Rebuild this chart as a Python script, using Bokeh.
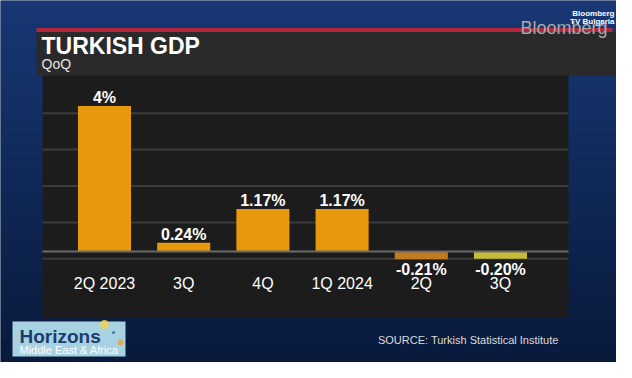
from bokeh.plotting import figure
from bokeh.models import Range1d, ColumnDataSource
from bokeh.embed import file_html
from bokeh.resources import INLINE
from bokeh.core.properties import value
import numpy as np

# ---- data ----
categories = ["2Q 2023", "3Q", "4Q", "1Q 2024", "2Q", "3Q"]
gdp_qoq = [4.0, 0.24, 1.17, 1.17, -0.21, -0.20]
value_labels = ["4%", "0.24%", "1.17%", "1.17%", "-0.21%", "-0.20%"]
bar_colors = ["#E8980C", "#E8980C", "#E8980C", "#E8980C", "#C27A1E", "#C6BC38"]
grid_values = [-0.2, 0.8, 1.8, 2.8, 3.8]

title = "TURKISH GDP"
subtitle = "QoQ"
source_note = "SOURCE: Turkish Statistical Institute"

# ---- layout ----
W, H = 616, 362
FONT = value("Liberation Sans")
DESC = 0.212            # font descent (em) used to place text baselines
slot_px = 79.2          # pixels per category slot
unit_px = 36.4          # pixels per percentage point
x_start = -104 / slot_px
x_end = x_start + W / slot_px
y_end = 251 / unit_px
y_start = y_end - H / unit_px

p = figure(width=W, height=H, output_backend="svg", toolbar_location=None,
           x_range=Range1d(x_start, x_end), y_range=Range1d(y_start, y_end),
           x_axis_type=None, y_axis_type=None, min_border=0)
p.extra_x_ranges = {"px": Range1d(0, W)}
p.extra_y_ranges = {"px": Range1d(H, 0)}
p.grid.visible = False
p.outline_line_color = None
p.background_fill_color = "#0e2554"
p.border_fill_color = "#0e2554"

PX = dict(x_range_name="px", y_range_name="px")


def base(y, fs):
    """y of the text box bottom for a wanted alphabetic baseline y (px coords)."""
    return y + DESC * fs


# background gradient
n = 30
ys = np.linspace(0, H, n + 1)
c_top = np.array([0x18, 0x37, 0x74])
c_bot = np.array([0x09, 0x1a, 0x3c])
cols = []
for i in range(n):
    t = i / (n - 1)
    c = (c_top * (1 - t) + c_bot * t).astype(int)
    cols.append("#%02x%02x%02x" % tuple(c))
p.quad(left=0, right=W, top=ys[:-1], bottom=ys[1:], color=cols, line_color=None, **PX)

# header decorations
p.quad(left=36, right=612, top=27.5, bottom=31.5, color="#b3263e", line_color=None, **PX)
p.quad(left=36, right=W, top=31.5, bottom=75, color="#2a2a2b", line_color=None, **PX)
p.quad(left=42, right=568, top=75, bottom=317, color="#1c1c1c", line_color=None, **PX)

# gridlines
p.segment(x0=42, x1=568, y0=grid_values, y1=grid_values, x_range_name="px",
          line_color="#3b3b3b", line_width=2)

# bars
src = ColumnDataSource(dict(x=list(range(len(categories))), top=gdp_qoq,
                            color=bar_colors, label=value_labels, cat=categories))
p.vbar(x="x", top="top", bottom=0, width=0.67, color="color", line_color=None, source=src)

# zero line
p.segment(x0=42, x1=568, y0=0, y1=0, x_range_name="px", line_color="#6a6a6a", line_width=2)

# value labels
pos = [i for i, v in enumerate(gdp_qoq) if v >= 0]
neg = [i for i, v in enumerate(gdp_qoq) if v < 0]
p.text(x=pos, y=[gdp_qoq[i] for i in pos], text=[value_labels[i] for i in pos],
       text_align="center", text_baseline="bottom", text_color="white",
       text_font=FONT, text_font_style="bold", text_font_size="16px")
p.text(x=neg, y=[gdp_qoq[i] for i in neg], text=[value_labels[i] for i in neg],
       text_align="center", text_baseline="top", y_offset=2, text_color="white",
       text_font=FONT, text_font_style="bold", text_font_size="16px")

# category labels
p.text(x=list(range(len(categories))), y=[base(288, 16)] * len(categories), text=categories,
       y_range_name="px", text_align="center", text_baseline="bottom",
       text_color="white", text_font=FONT, text_font_size="16px")

# titles
p.text(x=[41], y=[base(54, 23)], text=[title], text_color="white", text_font=FONT,
       text_font_style="bold", text_font_size="23px", text_baseline="bottom", **PX)
p.text(x=[41], y=[base(69, 14)], text=[subtitle], text_color="#e6e6e6", text_font=FONT,
       text_font_size="14px", text_baseline="bottom", **PX)

# source
p.text(x=[558], y=[base(343, 11)], text=[source_note], text_color="#dcdcdc", text_font=FONT,
       text_font_size="11px", text_align="right", text_baseline="bottom", **PX)

# Bloomberg marks
p.text(x=[520], y=[base(34, 18)], text=["Bloomberg"], text_color="#a9a9a9", text_font=FONT,
       text_font_size="18px", text_baseline="bottom", **PX)
p.text(x=[614, 614], y=[base(16, 8), base(24, 8)], text=["Bloomberg", "TV Bulgaria"],
       text_color="white", text_font=FONT, text_font_style="bold", text_font_size="8px",
       text_align="right", text_baseline="bottom", **PX)

# Horizons logo
p.quad(left=12, right=125, top=321, bottom=356, color="#a7d2e2", line_color=None, **PX)
p.scatter(x=[104, 120, 113], y=[324, 342, 332], size=[9, 6, 3],
          color=["#f2d25a", "#e8a24a", "#2e6f9a"], alpha=0.85, line_color=None, **PX)
p.text(x=[19], y=[base(342, 19)], text=["Horizons"], text_color="#1d3c6e", text_font=FONT,
       text_font_style="bold", text_font_size="19px", text_baseline="bottom", **PX)
p.text(x=[19], y=[base(353, 11)], text=["Middle East & Africa"], text_color="white",
       text_font=FONT, text_font_size="11px", text_baseline="bottom", **PX)

open("out.html", "w").write(file_html(p, INLINE))
